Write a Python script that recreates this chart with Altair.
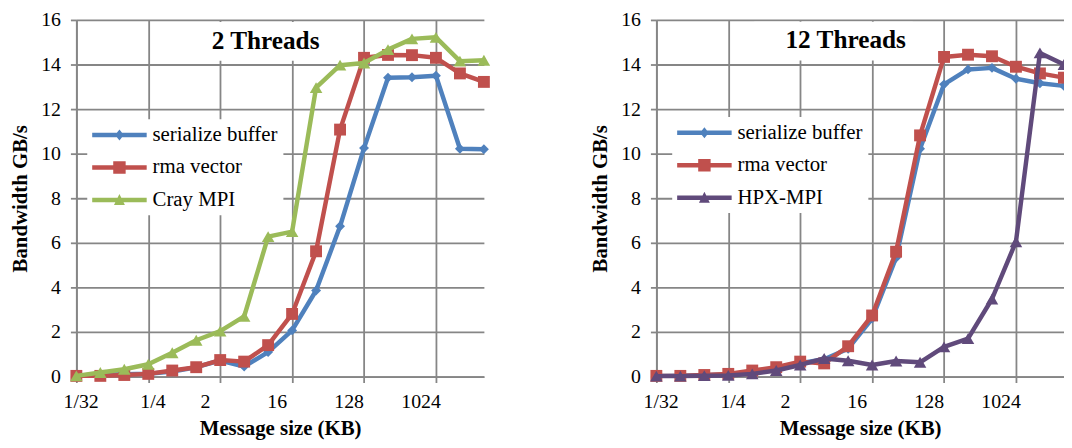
import altair as alt
import pandas as pd

# message sizes (KB), one point per power of two
sizes_kb = [0.03125, 0.0625, 0.125, 0.25, 0.5, 1, 2, 4, 8, 16, 32, 64, 128, 256, 512, 1024, 2048, 4096]
x_tick_values = [0.03125, 0.25, 2, 16, 128, 1024]
y_tick_values = [0, 2, 4, 6, 8, 10, 12, 14, 16]

# 2 Threads panel
t2_title = "2 Threads"
t2_names = ["serialize buffer", "rma vector", "Cray MPI"]
t2_serialize = [0.05, 0.08, 0.1, 0.13, 0.22, 0.42, 0.72, 0.45, 1.1, 2.07, 3.86, 6.74, 10.25, 13.41, 13.43, 13.5, 10.22, 10.2]
t2_rma = [0.03, 0.03, 0.07, 0.12, 0.27, 0.42, 0.74, 0.67, 1.41, 2.81, 5.62, 11.08, 14.3, 14.43, 14.42, 14.3, 13.6, 13.22]
t2_cray = [0.03, 0.18, 0.33, 0.55, 1.07, 1.63, 2.04, 2.7, 6.28, 6.5, 12.96, 13.97, 14.07, 14.67, 15.15, 15.22, 14.15, 14.19]

# 12 Threads panel
t12_title = "12 Threads"
t12_names = ["serialize buffer", "rma vector", "HPX-MPI"]
t12_serialize = [0.03, 0.04, 0.06, 0.1, 0.2, 0.35, 0.6, 0.78, 1.25, 2.6, 5.33, 10.22, 13.11, 13.78, 13.85, 13.36, 13.16, 13.04]
t12_rma = [0.03, 0.03, 0.07, 0.12, 0.27, 0.42, 0.67, 0.59, 1.36, 2.74, 5.6, 10.82, 14.34, 14.44, 14.37, 13.9, 13.6, 13.41]
t12_hpx = [0.02, 0.02, 0.04, 0.05, 0.12, 0.27, 0.52, 0.81, 0.71, 0.52, 0.7, 0.64, 1.33, 1.7, 3.48, 6.05, 14.52, 14.0]

FONT = "Liberation Serif"
GRID = "#868686"
BLUE, RED, GREEN, PURPLE = "#4F81BD", "#C0504D", "#9BBB59", "#604A7B"

LINE_PART = "M-2.5,-0.2H2.5V0.2H-2.5Z"
LEG_DIAMOND = LINE_PART + "M0,-0.5L0.4,0L0,0.5L-0.4,0Z"
LEG_SQUARE = LINE_PART + "M-0.57,-0.57H0.57V0.57H-0.57Z"
LEG_TRIANGLE = LINE_PART + "M0,-0.55L0.5,0.45L-0.5,0.45Z"


def make_axes():
    xaxis = alt.Axis(
        values=x_tick_values,
        labelExpr="datum.value < 1 ? '1/' + format(1/datum.value, 'd') : format(datum.value, 'd')",
        grid=True, gridColor=GRID, gridWidth=1.8,
        ticks=True, tickColor=GRID, tickSize=6, tickWidth=1.8,
        domain=True, domainColor=GRID, domainWidth=1.8,
        labelFont=FONT, labelFontSize=20, labelColor="black", labelPadding=9,
        labelFlush=False, labelOverlap=False,
        labelOffset={"condition": {"test": "datum.value < 1", "value": 4.3}, "value": -15.5},
        title="Message size (KB)", titleFont=FONT, titleFontSize=21,
        titleFontWeight="bold", titleColor="black", titlePadding=6,
    )
    yaxis = alt.Axis(
        values=y_tick_values,
        grid=True, gridColor=GRID, gridWidth=1.8,
        ticks=True, tickColor=GRID, tickSize=6, tickWidth=1.8,
        domain=True, domainColor=GRID, domainWidth=1.8,
        labelFont=FONT, labelFontSize=20, labelColor="black", labelPadding=10,
        labelFlush=False, labelOverlap=False,
        title="Bandwidth GB/s", titleFont=FONT, titleFontSize=21,
        titleFontWeight="bold", titleColor="black", titlePadding=10,
    )
    return xaxis, yaxis


def panel(title, names, values, colors, shapes, msizes, leg_paths, leg_x, leg_y, ttl_x, ttl_y):
    rows = []
    for name, vals in zip(names, values):
        for s, v in zip(sizes_kb, vals):
            rows.append({"size": s, "bw": v, "series": name, "panel": title})
    df = pd.DataFrame(rows)
    xaxis, yaxis = make_axes()
    x = alt.X("size:Q", scale=alt.Scale(type="log", base=2, domain=[sizes_kb[0], sizes_kb[-1]], nice=False), axis=xaxis)
    y = alt.Y("bw:Q", scale=alt.Scale(domain=[0, 16], nice=False), axis=yaxis)
    layers = []
    for i, name in enumerate(names):
        base = alt.Chart(df).transform_filter(alt.datum.series == name)
        layers.append(base.mark_line(color=colors[i], strokeWidth=4.5, strokeJoin="round", strokeCap="round").encode(x=x, y=y))
        layers.append(base.mark_point(shape=shapes[i], filled=True, size=msizes[i], color=colors[i], opacity=1).encode(x=x, y=y))
    legend = alt.Legend(
        orient="none", legendX=leg_x, legendY=leg_y, direction="vertical", title=None,
        fillColor="white", padding=5, symbolSize=484, symbolOffset=16.5, labelOffset=22.4,
        symbolStrokeWidth=0, symbolOpacity=1, labelFont=FONT, labelFontSize=21,
        labelColor="black", rowPadding=11.8, labelLimit=400,
    )
    # invisible carrier layer for the series legend
    leg_layer = alt.Chart(df).transform_filter(alt.datum.size == 1).mark_point(filled=True, opacity=0, size=484).encode(
        x=x, y=y,
        color=alt.Color("series:N", scale=alt.Scale(domain=names, range=colors), legend=legend),
        shape=alt.Shape("series:N", scale=alt.Scale(domain=names, range=leg_paths), legend=legend),
    )
    layers.append(leg_layer)
    # panel title in a white box (drawn as a one-entry legend)
    title_legend = alt.Legend(
        orient="none", legendX=ttl_x, legendY=ttl_y, title=None, fillColor="white", padding=6,
        symbolSize=0, symbolOpacity=0, symbolStrokeWidth=0, symbolOffset=0, labelOffset=0,
        labelFont=FONT, labelFontSize=25.5, labelFontWeight="bold", labelColor="black", labelLimit=400,
    )
    ttl_layer = alt.Chart(df).transform_filter(
        (alt.datum.size == 1) & (alt.datum.series == names[0])
    ).mark_point(filled=True, opacity=0, size=1).encode(
        x=x, y=y,
        fill=alt.Fill("panel:N", scale=alt.Scale(domain=[title], range=["white"]), legend=title_legend),
    )
    layers.append(ttl_layer)
    return alt.layer(*layers).resolve_scale(fill="independent").properties(width=411.4, height=360)


left = panel(t2_title, t2_names, [t2_serialize, t2_rma, t2_cray], [BLUE, RED, GREEN],
             ["diamond", "square", "triangle-up"], [100, 144, 160],
             [LEG_DIAMOND, LEG_SQUARE, LEG_TRIANGLE], 11, 100.2, 105.1, 2.2)
right = panel(t12_title, t12_names, [t12_serialize, t12_rma, t12_hpx], [BLUE, RED, PURPLE],
              ["diamond", "square", "triangle-up"], [100, 144, 160],
              [LEG_DIAMOND, LEG_SQUARE, LEG_TRIANGLE], 16, 97.9, 98.8, 1.9)

chart = alt.hconcat(left, right, spacing=100.5).resolve_scale(
    color="independent", shape="independent", fill="independent", x="independent", y="independent"
).resolve_legend(color="independent", shape="independent", fill="independent").configure_view(stroke=None).properties(
    padding={"left": 2, "top": 0, "right": -7, "bottom": 0}, background="white"
)

chart.save("out.html", embed_options={"renderer": "svg", "actions": False})
